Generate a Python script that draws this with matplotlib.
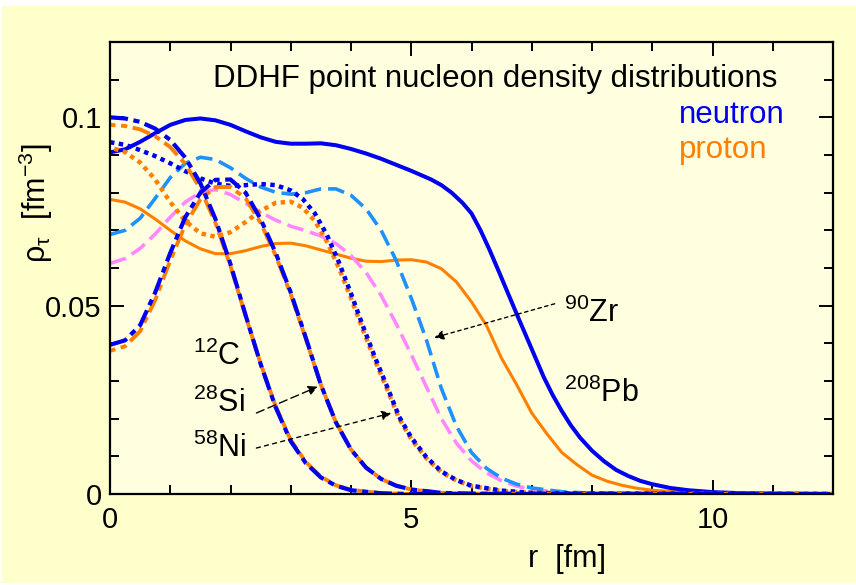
import numpy as np
import matplotlib
matplotlib.use("Agg")
import matplotlib.pyplot as plt
from matplotlib.patches import Rectangle

plt.rcParams['font.family'] = ['Liberation Sans', 'DejaVu Sans']
plt.rcParams['mathtext.fontset'] = 'custom'
plt.rcParams['mathtext.rm'] = 'Liberation Sans'
plt.rcParams['mathtext.it'] = 'Liberation Sans'
plt.rcParams['lines.scale_dashes'] = False

# --- data (r in fm, density in fm^-3) ---
c12_r = [0, 0.25, 0.5, 0.75, 1.0, 1.25, 1.5, 1.75, 2.0, 2.25, 2.5, 2.75, 3.0, 3.25,
         3.5, 3.75, 4.0, 4.5, 5.0, 12]
c12_n = [0.100, 0.0997, 0.0988, 0.0970, 0.0940, 0.0893, 0.0825, 0.0730, 0.0610, 0.0475,
         0.0345, 0.0230, 0.0140, 0.0082, 0.0044, 0.0022, 0.0010, 0.0002, 0, 0]
c12_p = [0.098, 0.0977, 0.0968, 0.0950, 0.0921, 0.0876, 0.0810, 0.0720, 0.0605, 0.0473,
         0.0346, 0.0233, 0.0143, 0.0085, 0.0046, 0.0023, 0.0011, 0.0002, 0, 0]

si28_r = [0, 0.25, 0.5, 0.75, 1.0, 1.25, 1.5, 1.75, 2.0, 2.25, 2.5, 2.75, 3.0, 3.25,
          3.5, 3.75, 4.0, 4.25, 4.5, 4.75, 5.0, 5.5, 6.0, 12]
si28_n = [0.0396, 0.0408, 0.0448, 0.0535, 0.0640, 0.0735, 0.0800, 0.0834, 0.0835, 0.0800,
          0.0730, 0.0640, 0.0535, 0.0415, 0.0290, 0.0190, 0.0118, 0.0070, 0.0040, 0.0022,
          0.0012, 0.0003, 0.0001, 0]
si28_p = [0.0380, 0.0392, 0.0432, 0.0515, 0.0620, 0.0715, 0.0782, 0.0815, 0.0815, 0.0785,
          0.0720, 0.0633, 0.0530, 0.0412, 0.0290, 0.0190, 0.0118, 0.0070, 0.0040, 0.0022,
          0.0012, 0.0003, 0.0001, 0]

ni58_r = [0, 0.25, 0.5, 0.75, 1.0, 1.25, 1.5, 1.75, 2.0, 2.25, 2.5, 2.75, 3.0, 3.2, 3.4,
          3.6, 3.8, 4.0, 4.2, 4.4, 4.6, 4.8, 5.0, 5.25, 5.5, 5.75, 6.0, 6.5, 7.0, 8.0, 12]
ni58_n = [0.0934, 0.0927, 0.0913, 0.0897, 0.0878, 0.0857, 0.0838, 0.0824, 0.0818, 0.0820,
          0.0823, 0.0820, 0.0806, 0.0783, 0.0745, 0.0688, 0.0615, 0.0532, 0.0445, 0.0362,
          0.0285, 0.0205, 0.0150, 0.0098, 0.0060, 0.0037, 0.0022, 0.0009, 0.0003, 0.0001, 0]
ni58_p = [0.0920, 0.0908, 0.0880, 0.0835, 0.0775, 0.0725, 0.0692, 0.0683, 0.0695, 0.0722,
          0.0752, 0.0773, 0.0776, 0.0760, 0.0725, 0.0670, 0.0600, 0.0520, 0.0435, 0.0354,
          0.0278, 0.0200, 0.0146, 0.0095, 0.0058, 0.0036, 0.0021, 0.0008, 0.0003, 0.0001, 0]

zr90_r = [0, 0.25, 0.5, 0.75, 1.0, 1.25, 1.5, 1.75, 2.0, 2.25, 2.5, 2.75, 3.0, 3.25, 3.5,
          3.75, 4.0, 4.25, 4.5, 4.75, 5.0, 5.25, 5.5, 5.75, 6.0, 6.25, 6.5, 6.75, 7.0,
          7.5, 8.0, 12]
zr90_n = [0.0689, 0.0700, 0.0732, 0.0785, 0.0840, 0.0878, 0.0894, 0.0888, 0.0866, 0.0838,
          0.0815, 0.0801, 0.0796, 0.0800, 0.0810, 0.0810, 0.0793, 0.0757, 0.0700, 0.0620,
          0.0520, 0.0410, 0.0280, 0.0180, 0.0110, 0.0068, 0.0042, 0.0026, 0.0016, 0.0006,
          0.0002, 0]
zr90_p = [0.0612, 0.0625, 0.0652, 0.0690, 0.0735, 0.0775, 0.0801, 0.0808, 0.0795, 0.0772,
          0.0748, 0.0727, 0.0711, 0.0699, 0.0685, 0.0665, 0.0633, 0.0588, 0.0527, 0.0452,
          0.0370, 0.0285, 0.0200, 0.0135, 0.0088, 0.0056, 0.0035, 0.0021, 0.0012, 0.0004,
          0.0001, 0]

pb208_r_n = [0, 0.25, 0.5, 0.75, 1.0, 1.25, 1.5, 1.75, 2.0, 2.25, 2.5, 2.75, 3.0, 3.25,
             3.5, 3.75, 4.0, 4.25, 4.5, 4.75, 5.0, 5.33, 5.5, 5.67, 5.85, 6.0, 6.15, 6.3,
             6.45, 6.6, 6.75, 6.9, 7.05, 7.2, 7.35, 7.5, 7.65, 7.8, 8.0, 8.2, 8.4, 8.6,
             8.8, 9.0, 9.3, 9.6, 10.0, 10.5, 11.0, 12]
pb208_n = [0.0907, 0.0915, 0.0935, 0.0958, 0.0980, 0.0993, 0.0997, 0.0992, 0.0980, 0.0963,
           0.0947, 0.0935, 0.0930, 0.0930, 0.0931, 0.0926, 0.0916, 0.0904, 0.0890, 0.0874,
           0.0858, 0.0835, 0.0820, 0.0800, 0.0773, 0.0745, 0.0700, 0.0648, 0.0592, 0.0535,
           0.0478, 0.0422, 0.0366, 0.0310, 0.0262, 0.0220, 0.0182, 0.0150, 0.0115, 0.0087,
           0.0064, 0.0048, 0.0035, 0.0026, 0.0016, 0.0010, 0.0005, 0.0002, 0.0001, 0]
pb208_r_p = [0, 0.25, 0.5, 0.75, 1.0, 1.25, 1.5, 1.75, 2.0, 2.25, 2.5, 2.75, 3.0, 3.25,
             3.5, 3.75, 4.0, 4.25, 4.5, 4.75, 5.0, 5.25, 5.5, 5.75, 6.0, 6.25, 6.5, 6.75,
             7.0, 7.25, 7.5, 7.75, 8.0, 8.25, 8.5, 8.75, 9.0, 9.5, 10.0, 11.0, 12]
pb208_p = [0.0782, 0.0775, 0.0757, 0.0730, 0.0700, 0.0672, 0.0651, 0.0638, 0.0638, 0.0646,
           0.0657, 0.0665, 0.0666, 0.0659, 0.0648, 0.0637, 0.0626, 0.0618, 0.0617, 0.0621,
           0.0622, 0.0616, 0.0598, 0.0563, 0.0510, 0.0447, 0.0360, 0.0290, 0.0215, 0.0160,
           0.0110, 0.0078, 0.0050, 0.0034, 0.0023, 0.0015, 0.0010, 0.0005, 0.0002, 0.0001, 0]

BLUE = '#0000F0'
ORANGE = '#FF7F00'
LBLUE = '#1E90FF'
PINK = '#FF88FF'

fig = plt.figure(figsize=(8.56, 5.85), dpi=100, facecolor='white')
fig.patches.append(Rectangle((2 / 856, 2 / 585), 1, 1 - 8 / 585, transform=fig.transFigure,
                             facecolor='#FFFFCC', edgecolor='none', zorder=-10))
ax = fig.add_axes([110 / 856, 91 / 585, 723 / 856, 452 / 585])
ax.set_facecolor('#FFFFE0')

# 208Pb solid
ax.plot(pb208_r_p, pb208_p, color=ORANGE, lw=2.2)
ax.plot(pb208_r_n, pb208_n, color=BLUE, lw=2.9)
# 90Zr dashed
ax.plot(zr90_r, zr90_p, color=PINK, lw=2.6, linestyle=(0, (12, 5)), dash_capstyle='butt')
ax.plot(zr90_r, zr90_n, color=LBLUE, lw=2.6, linestyle=(0, (12, 5)), dash_capstyle='butt')
# 58Ni dotted
ax.plot(ni58_r, ni58_p, color=ORANGE, lw=3.2, linestyle=(3.2, (3.2, 3.2)), dash_capstyle='butt')
ax.plot(ni58_r, ni58_n, color=BLUE, lw=3.2, linestyle=(0, (3.2, 3.2)), dash_capstyle='butt')
# 12C and 28Si long-short dashes, orange partly showing through
dd = (13, 4, 4.5, 4)
for r, p in [(c12_r, c12_p), (si28_r, si28_p)]:
    ax.plot(r, p, color=ORANGE, lw=2.8, linestyle=(9, dd), dash_capstyle='butt')
for r, n in [(c12_r, c12_n), (si28_r, si28_n)]:
    ax.plot(r, n, color=BLUE, lw=3.0, linestyle=(0, dd), dash_capstyle='butt')

ax.set_xlim(0, 12)
ax.set_ylim(0, 0.12)
ax.set_xticks([0, 5, 10])
ax.set_xticks(np.arange(0, 13, 1), minor=True)
ax.set_yticks([0, 0.05, 0.1])
ax.set_yticklabels(['0', '0.05', '0.1'])
ax.set_yticks(np.arange(0, 0.121, 0.01), minor=True)
ax.tick_params(which='both', direction='in', top=True, right=True, width=1.4,
               labelsize=21, colors='black')
ax.tick_params(axis='x', which='major', pad=9)
ax.tick_params(axis='y', which='major', pad=6)
ax.tick_params(which='major', length=10)
ax.tick_params(which='minor', length=6.5)
for s in ax.spines.values():
    s.set_linewidth(1.6)

ax.set_xlabel('r  [fm]', fontsize=22)
ax.xaxis.set_label_coords(0.632, -0.11)
ax.set_ylabel(r'ρ$_{\mathregular{τ}}$  [fm$^{\mathregular{-3}}$]', fontsize=22)
ax.yaxis.set_label_coords(-0.076, 0.644)

ax.text(0.5325, 0.900, 'DDHF point nucleon density distributions', transform=ax.transAxes,
        ha='center', va='baseline', fontsize=22.5)
ax.text(0.787, 0.821, 'neutron', transform=ax.transAxes, color=BLUE, fontsize=22.5,
        ha='left', va='baseline')
ax.text(0.787, 0.743, 'proton', transform=ax.transAxes, color=ORANGE, fontsize=22.5,
        ha='left', va='baseline')

lab = dict(fontsize=22, ha='left', va='baseline')
ax.text(1.38, 0.0343, r'$^{\mathregular{12}}$C', **lab)
ax.text(1.37, 0.0218, r'$^{\mathregular{28}}$Si', **lab)
ax.text(1.37, 0.0098, r'$^{\mathregular{58}}$Ni', **lab)
ax.text(7.53, 0.0457, r'$^{\mathregular{90}}$Zr', **lab)
ax.text(7.53, 0.0245, r'$^{\mathregular{208}}$Pb', **lab)

arr = dict(arrowstyle='-|>', color='black', lw=1.0, mutation_scale=14, shrinkA=0, shrinkB=0)
ax.annotate('', xy=(3.45, 0.0285), xytext=(2.43, 0.0215),
            arrowprops=dict(arr, linestyle=(0, (6, 3))))
ax.annotate('', xy=(4.67, 0.0215), xytext=(2.43, 0.0122),
            arrowprops=dict(arr, linestyle=(0, (3, 3))))
ax.annotate('', xy=(5.38, 0.0415), xytext=(7.38, 0.0505),
            arrowprops=dict(arr, linestyle=(0, (2.5, 2.5))))

fig.savefig('out.png', dpi=100, facecolor=fig.get_facecolor())
